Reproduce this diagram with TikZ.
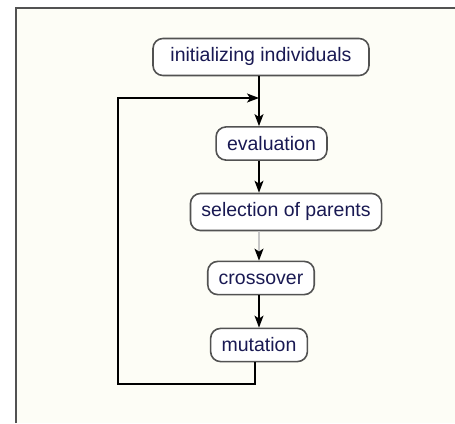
\documentclass[tikz,border=0pt]{standalone}
\usepackage{fontspec}
\setmainfont{Liberation Sans}
\usetikzlibrary{arrows.meta}

\begin{document}
\begin{tikzpicture}[x=1pt,y=-1pt,
    stage/.style={draw=edge, line width=1.6pt, rounded corners=10pt, fill=white,
      text=txt, inner xsep=11pt, inner ysep=9.5pt, text height=14pt,
      font=\fontsize{19.5}{23}\selectfont},
    flow/.style={-{Stealth[length=12pt,width=9pt,inset=3pt]}, line width=1.5pt}]
    \colorlet{edge}{gray!40!black!85}
    \colorlet{txt}{blue!25!black!90}
    \definecolor{paper}{RGB}{253,253,246}

    \useasboundingbox (0,0) rectangle (455,423);
    \fill[paper] (15,8) rectangle (455,423);
    \draw[edge, line width=2pt] (16,423) -- (16,8) -- (455,8);

    \node[stage, minimum width=216pt] (init) at (261,57) {initializing individuals};
    \node[stage] (eval) at (271.5,143.5) {evaluation};
    \node[stage] (select) at (286,212) {selection of parents};
    \node[stage] (cross) at (261,278) {crossover};
    \node[stage] (mut) at (259,345) {mutation};

    \coordinate (spine) at (259,0);
    \coordinate (exit) at (255,0);
    \coordinate (corner) at (118,384);
    \coordinate (back) at (259,98);

    \draw[flow] (init.south -| spine) -- (eval.north -| spine);
    \draw[flow] (eval.south -| spine) -- (select.north -| spine);
    \draw[-{Stealth[length=12pt,width=9pt,inset=3pt,black]}, line width=1.5pt, gray!45]
      (select.south -| spine) -- (cross.north -| spine);
    \draw[flow] (cross.south -| spine) -- (mut.north -| spine);

    %% back to evaluation
    \draw[flow] (mut.south -| exit) |- (corner) |- (back);

\end{tikzpicture}
\end{document}
